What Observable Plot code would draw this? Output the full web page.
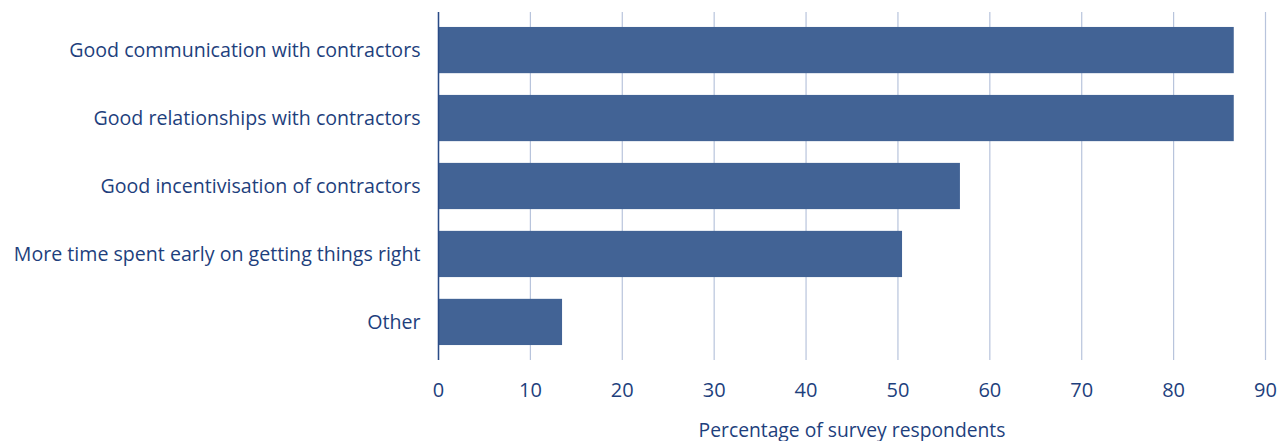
<!DOCTYPE html>
<html>
<head>
<meta charset="utf-8">
<script src="https://cdn.jsdelivr.net/npm/d3@7"></script>
<script src="https://cdn.jsdelivr.net/npm/@observablehq/plot@0.6"></script>
<style>
  html, body { margin: 0; padding: 0; background: #fff; }
  svg { display: block; }
</style>
</head>
<body>
<div id="chart"></div>
<script>
const categories = [
  "Good communication with contractors",
  "Good relationships with contractors",
  "Good incentivisation of contractors",
  "More time spent early on getting things right",
  "Other"
];
const values = [86.6, 86.6, 56.8, 50.5, 13.5];
const xTicks = [0, 10, 20, 30, 40, 50, 60, 70, 80, 90];
const xLabel = "Percentage of survey respondents";

const data = categories.map((c, i) => ({category: c, value: values[i]}));
const textColor = "#1e3f7d";

const chart = Plot.plot({
  width: 1281,
  height: 441,
  marginLeft: 438,
  marginRight: 16,
  marginTop: 12,
  marginBottom: 81,
  style: {fontFamily: "'Open Sans', sans-serif", fontSize: "18px", color: textColor, background: "#fff"},
  x: {domain: [0, 90]},
  y: {domain: categories, paddingInner: 0.32, paddingOuter: 0.22, round: false},
  marks: [
    Plot.gridX(xTicks, {stroke: "#b8c4dc", strokeOpacity: 1, strokeWidth: 1.2}),
    Plot.barX(data, {x: "value", y: "category", fill: "#426395"}),
    Plot.ruleX([0], {stroke: "#2a4b86", strokeWidth: 1.5}),
    Plot.axisX(xTicks, {tickSize: 0, tickPadding: 22, fontSize: 20, label: null, fill: textColor}),
    Plot.axisY({tickSize: 0, tickPadding: 18, fontSize: 19.6, label: null, fill: textColor}),
    Plot.text([xLabel], {frameAnchor: "bottom", dy: 76, fontSize: 19.3, fill: textColor})
  ]
});
document.getElementById("chart").appendChild(chart);
</script>
</body>
</html>
